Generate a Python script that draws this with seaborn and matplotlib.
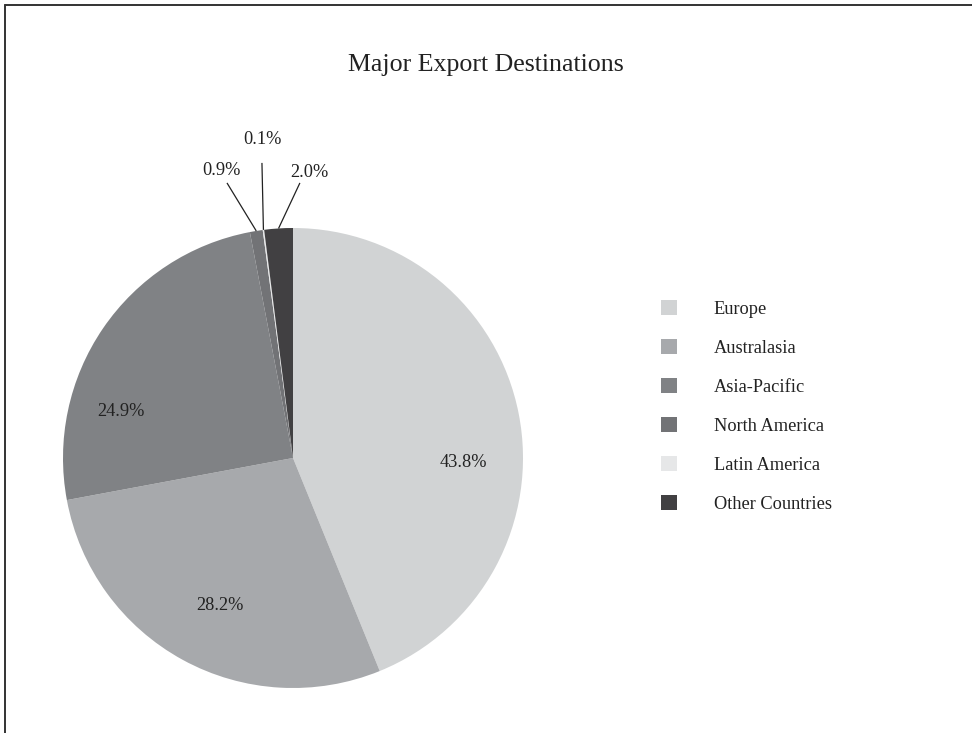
import numpy as np
import matplotlib
matplotlib.use("Agg")
import matplotlib.pyplot as plt
from matplotlib.patches import Patch
import seaborn as sns

# Export share by destination region (%)
regions = ["Europe", "Australasia", "Asia-Pacific", "North America",
           "Latin America", "Other Countries"]
shares = [43.8, 28.2, 24.9, 0.9, 0.1, 2.0]
share_labels = ["43.8%", "28.2%", "24.9%", "0.9%", "0.1%", "2.0%"]
colors = ["#d1d3d4", "#a7a9ac", "#808285", "#727376", "#e6e7e8", "#414042"]

sns.set_theme(style="white")
plt.rcParams["font.family"] = ["Liberation Serif", "DejaVu Serif"]

W, H = 972, 733
fig = plt.figure(figsize=(W / 100, H / 100), dpi=100)
fig.patch.set_facecolor("white")

# page frame (left and top edges visible)
fig.add_artist(plt.Line2D([5 / W, 5 / W], [-0.1, 1 - 5 / H], transform=fig.transFigure,
                          color="#333333", lw=1.4))
fig.add_artist(plt.Line2D([5 / W, 1.1], [1 - 5 / H, 1 - 5 / H], transform=fig.transFigure,
                          color="#333333", lw=1.4))

# pie axes: centre (293, 458) px, radius 230 px
cx, cy, r = 293, 458, 230
ax = fig.add_axes([(cx - r) / W, (H - cy - r) / H, 2 * r / W, 2 * r / H])
wedges, _ = ax.pie(shares, colors=colors, startangle=90, counterclock=False,
                   radius=1.0, wedgeprops=dict(linewidth=0))
ax.set_xlim(-1, 1)
ax.set_ylim(-1, 1)
ax.set_aspect("equal")
ax.axis("off")

fs = 13.2
# labels inside the large slices (pie-radius units)
inside_pos = {0: (0.739, -0.02), 1: (-0.317, -0.64), 2: (-0.75, 0.20)}
for i, (x, y) in inside_pos.items():
    ax.text(x, y, share_labels[i], ha="center", va="center", fontsize=fs, color="#222222")

# labels outside the small slices with leader lines
outside = {3: ((-0.313, 1.248), (-0.287, 1.196)),
           4: ((-0.135, 1.383), (-0.135, 1.283)),
           5: ((0.070, 1.243), (0.030, 1.196))}
for i, (txt_xy, start) in outside.items():
    w = wedges[i]
    mid = np.deg2rad((w.theta1 + w.theta2) / 2)
    end = (np.cos(mid), np.sin(mid))
    ax.plot([start[0], end[0]], [start[1], end[1]], color="#222222", lw=0.9,
            clip_on=False, solid_capstyle="butt")
    ax.text(txt_xy[0], txt_xy[1], share_labels[i], ha="center", va="center",
            fontsize=fs, color="#222222")

fig.text(486 / W, 1 - 65 / H, "Major Export Destinations", ha="center", va="center",
         fontsize=18.6, color="#222222")

handles = [Patch(facecolor=c, edgecolor="none") for c in colors]
fig.legend(handles, regions, loc="upper left",
           bbox_to_anchor=(661 / W, 1 - 300 / H), frameon=False, fontsize=fs,
           handlelength=0.87, handleheight=0.87, handletextpad=2.0,
           labelspacing=1.16, borderpad=0, borderaxespad=0, labelcolor="#222222")

fig.savefig("out.png", dpi=100, facecolor="white")
